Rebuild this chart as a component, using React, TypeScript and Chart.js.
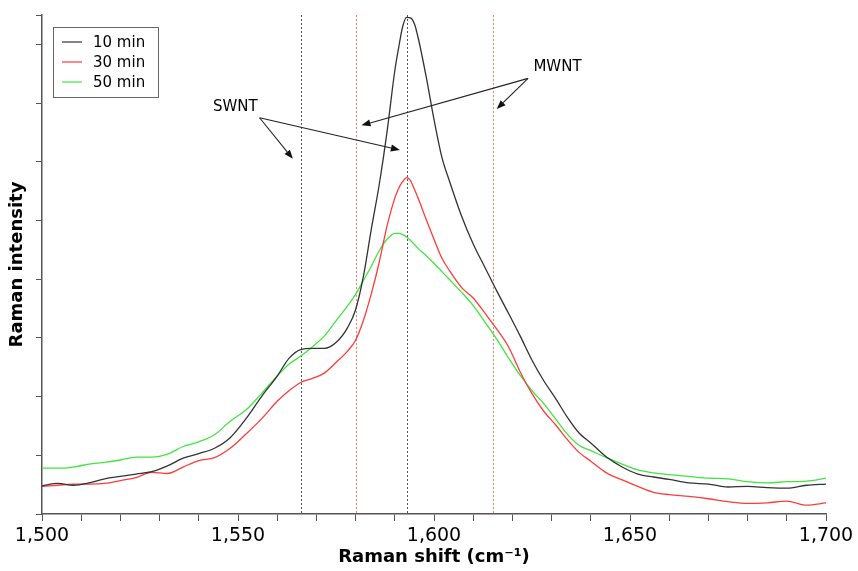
import React, { useEffect, useRef } from "react";
import { Chart, registerables } from "chart.js";

Chart.register(...registerables);

// ---- DATA ----
const shifts = [
  1500, 1504, 1508, 1512, 1516, 1520, 1524, 1528, 1532, 1536, 1540, 1544, 1548, 1552, 1556, 1560,
  1563, 1566, 1569, 1572, 1575, 1578, 1580, 1582, 1584, 1586, 1588, 1590, 1591, 1592, 1593, 1594,
  1595, 1596, 1598, 1600, 1602, 1604, 1607, 1610, 1613, 1616, 1619, 1622, 1625, 1628, 1631, 1634,
  1637, 1640, 1644, 1648, 1652, 1656, 1660, 1665, 1670, 1675, 1680, 1685, 1690, 1695, 1700,
];

const min10 = [
  0.48, 0.52, 0.49, 0.53, 0.6, 0.64, 0.68, 0.72, 0.82, 0.95, 1.03, 1.12, 1.3, 1.62, 2.0, 2.35,
  2.65, 2.8, 2.82, 2.82, 2.92, 3.18, 3.48, 4.05, 4.85, 5.6, 6.5, 7.55, 7.95, 8.3, 8.46, 8.45,
  8.35, 8.1, 7.45, 6.72, 6.08, 5.66, 5.08, 4.6, 4.2, 3.8, 3.42, 3.03, 2.62, 2.27, 1.97, 1.65,
  1.38, 1.21, 0.97, 0.8, 0.68, 0.63, 0.59, 0.53, 0.51, 0.46, 0.47, 0.45, 0.44, 0.49, 0.51,
];

const min30 = [
  0.47, 0.49, 0.51, 0.51, 0.52, 0.57, 0.62, 0.71, 0.69, 0.8, 0.91, 0.96, 1.12, 1.36, 1.62, 1.92,
  2.1, 2.24, 2.31, 2.4, 2.58, 2.78, 2.96, 3.3, 3.75, 4.28, 4.9, 5.38, 5.55, 5.66, 5.73, 5.68,
  5.53, 5.37, 5.02, 4.68, 4.36, 4.14, 3.86, 3.68, 3.42, 3.15, 2.85, 2.42, 2.05, 1.75, 1.52, 1.27,
  1.05, 0.9, 0.7, 0.58, 0.47, 0.37, 0.33, 0.3, 0.26, 0.21, 0.18, 0.19, 0.22, 0.15, 0.19,
];

const min50 = [
  0.78, 0.78, 0.8, 0.85, 0.88, 0.92, 0.97, 0.97, 1.02, 1.15, 1.23, 1.35, 1.58, 1.77, 2.05, 2.35,
  2.55, 2.69, 2.85, 3.03, 3.29, 3.55, 3.74, 3.98, 4.22, 4.48, 4.68, 4.78, 4.78, 4.76, 4.72, 4.66,
  4.59, 4.52, 4.4, 4.27, 4.13, 3.99, 3.78, 3.55, 3.27, 2.98, 2.66, 2.36, 2.1, 1.88, 1.62, 1.36,
  1.17, 1.08, 0.96, 0.85, 0.75, 0.7, 0.67, 0.64, 0.61, 0.6, 0.55, 0.53, 0.55, 0.56, 0.61,
];

const seriesLabels = ["10 min", "30 min", "50 min"];
const seriesColors = ["#333333", "#ff3b3b", "#3fe63f"];

const xTickMin = 1500;
const xTickMax = 1700;
const yMax = 8.5;

// reference lines (Raman shift, cm-1)
const swntLines = [1566, 1593];
const mwntLines = [1580, 1615];

// annotation labels & arrows in data coordinates
const swntLabel = { text: "SWNT", x: 1549.3, y: 6.93 };
const swntArrows = [
  { from: [1555.5, 6.75], to: [1564.0, 6.05] },
  { from: [1555.5, 6.75], to: [1591.3, 6.2] },
];
const mwntLabel = { text: "MWNT", x: 1631.5, y: 7.62 };
const mwntArrows = [
  { from: [1624.0, 7.42], to: [1581.5, 6.62] },
  { from: [1624.0, 7.42], to: [1616.0, 6.9] },
];

const FONT = "'DejaVu Sans', Verdana, sans-serif";

function arrow(ctx: CanvasRenderingContext2D, x1: number, y1: number, x2: number, y2: number) {
  const ang = Math.atan2(y2 - y1, x2 - x1);
  const hl = 9;
  const hw = 3.5;
  const bx = x2 - hl * Math.cos(ang);
  const by = y2 - hl * Math.sin(ang);
  ctx.beginPath();
  ctx.moveTo(x1, y1);
  ctx.lineTo(bx, by);
  ctx.stroke();
  ctx.beginPath();
  ctx.moveTo(x2, y2);
  ctx.lineTo(bx + hw * Math.sin(ang), by - hw * Math.cos(ang));
  ctx.lineTo(bx - hw * Math.sin(ang), by + hw * Math.cos(ang));
  ctx.closePath();
  ctx.fill();
}

const refLinesPlugin = {
  id: "refLines",
  beforeDatasetsDraw(chart: any) {
    const { ctx, chartArea, scales } = chart;
    const xs = scales.x;
    ctx.save();
    ctx.lineWidth = 1;
    ctx.setLineDash([2, 2]);
    const draw = (vals: number[], color: string) => {
      ctx.strokeStyle = color;
      vals.forEach((v) => {
        const px = Math.round(xs.getPixelForValue(v)) + 0.5;
        ctx.beginPath();
        ctx.moveTo(px, chartArea.top);
        ctx.lineTo(px, chartArea.bottom);
        ctx.stroke();
      });
    };
    draw(swntLines, "#555555");
    draw(mwntLines, "#ff7a6a");
    ctx.restore();
  },
};

const annotPlugin = {
  id: "annot",
  afterDatasetsDraw(chart: any) {
    const { ctx, scales } = chart;
    const xs = scales.x;
    const ys = scales.y;
    ctx.save();
    ctx.strokeStyle = "#222";
    ctx.fillStyle = "#111";
    ctx.lineWidth = 1.1;
    const all = [...swntArrows, ...mwntArrows];
    all.forEach((a) => {
      arrow(
        ctx,
        xs.getPixelForValue(a.from[0]),
        ys.getPixelForValue(a.from[1]),
        xs.getPixelForValue(a.to[0]),
        ys.getPixelForValue(a.to[1])
      );
    });
    ctx.font = `15px ${FONT}`;
    ctx.textAlign = "center";
    ctx.textBaseline = "middle";
    ctx.fillStyle = "#000";
    [swntLabel, mwntLabel].forEach((l) => {
      ctx.fillText(l.text, xs.getPixelForValue(l.x), ys.getPixelForValue(l.y));
    });
    ctx.restore();
  },
};

const boxLegendPlugin = {
  id: "boxLegend",
  afterDraw(chart: any) {
    const { ctx, chartArea } = chart;
    const left = chartArea.left + 11;
    const top = chartArea.top + 12;
    const w = 105;
    const h = 70;
    ctx.save();
    ctx.fillStyle = "#fff";
    ctx.fillRect(left, top, w, h);
    ctx.strokeStyle = "#666";
    ctx.lineWidth = 1;
    ctx.strokeRect(left + 0.5, top + 0.5, w, h);
    ctx.font = `15px ${FONT}`;
    ctx.textBaseline = "middle";
    ctx.textAlign = "left";
    chart.data.datasets.forEach((ds: any, i: number) => {
      const cy = top + 15 + i * 20;
      ctx.strokeStyle = ds.borderColor;
      ctx.globalAlpha = 0.6;
      ctx.lineWidth = 2;
      ctx.beginPath();
      ctx.moveTo(left + 9, cy);
      ctx.lineTo(left + 29, cy);
      ctx.stroke();
      ctx.globalAlpha = 1;
      ctx.fillStyle = "#000";
      ctx.fillText(ds.label, left + 40, cy + 1);
    });
    ctx.restore();
  },
};

export default function App() {
  const ref = useRef<HTMLCanvasElement | null>(null);

  useEffect(() => {
    if (!ref.current) return;
    const series = [min10, min30, min50];
    const chart = new Chart(ref.current, {
      type: "line",
      data: {
        datasets: series.map((arr, i) => ({
          label: seriesLabels[i],
          data: shifts.map((x, j) => ({ x, y: arr[j] })),
          borderColor: seriesColors[i],
          backgroundColor: seriesColors[i],
          borderWidth: 1.3,
          pointRadius: 0,
          cubicInterpolationMode: "monotone" as const,
          fill: false,
        })),
      },
      options: {
        animation: false,
        responsive: false,
        maintainAspectRatio: false,
        layout: { padding: { top: 15, right: 32, left: 0, bottom: 0 } },
        plugins: {
          legend: { display: false },
          tooltip: { enabled: false },
        },
        scales: {
          x: {
            type: "linear",
            min: xTickMin,
            max: xTickMax,
            afterFit: (s: any) => {
              s.height = 57;
            },
            ticks: {
              stepSize: 10,
              autoSkip: false,
              maxRotation: 0,
              padding: 4,
              color: "#000",
              font: { family: FONT, size: 19 },
              callback: (v: any) => (Number(v) % 50 === 0 ? Number(v).toLocaleString("en-US") : ""),
            },
            grid: {
              display: true,
              drawOnChartArea: false,
              drawTicks: true,
              tickLength: 7,
              color: "#555",
              lineWidth: 1,
            },
            border: { display: true, color: "#555", width: 1.5 },
            title: {
              display: true,
              text: "Raman shift (cm⁻¹)",
              color: "#000",
              font: { family: FONT, size: 18, weight: "bold" },
              padding: { top: 0, bottom: 3 },
            },
          },
          y: {
            type: "linear",
            min: 0,
            max: yMax,
            afterFit: (s: any) => {
              s.width = 42;
            },
            ticks: {
              stepSize: 1,
              display: true,
              callback: () => "",
            },
            grid: {
              display: true,
              drawOnChartArea: false,
              drawTicks: true,
              tickLength: 6,
              color: "#555",
              lineWidth: 1,
            },
            border: { display: true, color: "#555", width: 1.5 },
            title: {
              display: true,
              text: "Raman intensity",
              color: "#000",
              font: { family: FONT, size: 18, weight: "bold" },
              padding: { top: 7, bottom: 0 },
            },
          },
        },
      },
      plugins: [refLinesPlugin, annotPlugin, boxLegendPlugin],
    });
    return () => chart.destroy();
  }, []);

  return (
    <div style={{ position: "fixed", left: 0, top: 0, width: 858, height: 571, background: "#fff" }}>
      <canvas ref={ref} width={858} height={571} style={{ display: "block", width: 858, height: 571 }} />
    </div>
  );
}
